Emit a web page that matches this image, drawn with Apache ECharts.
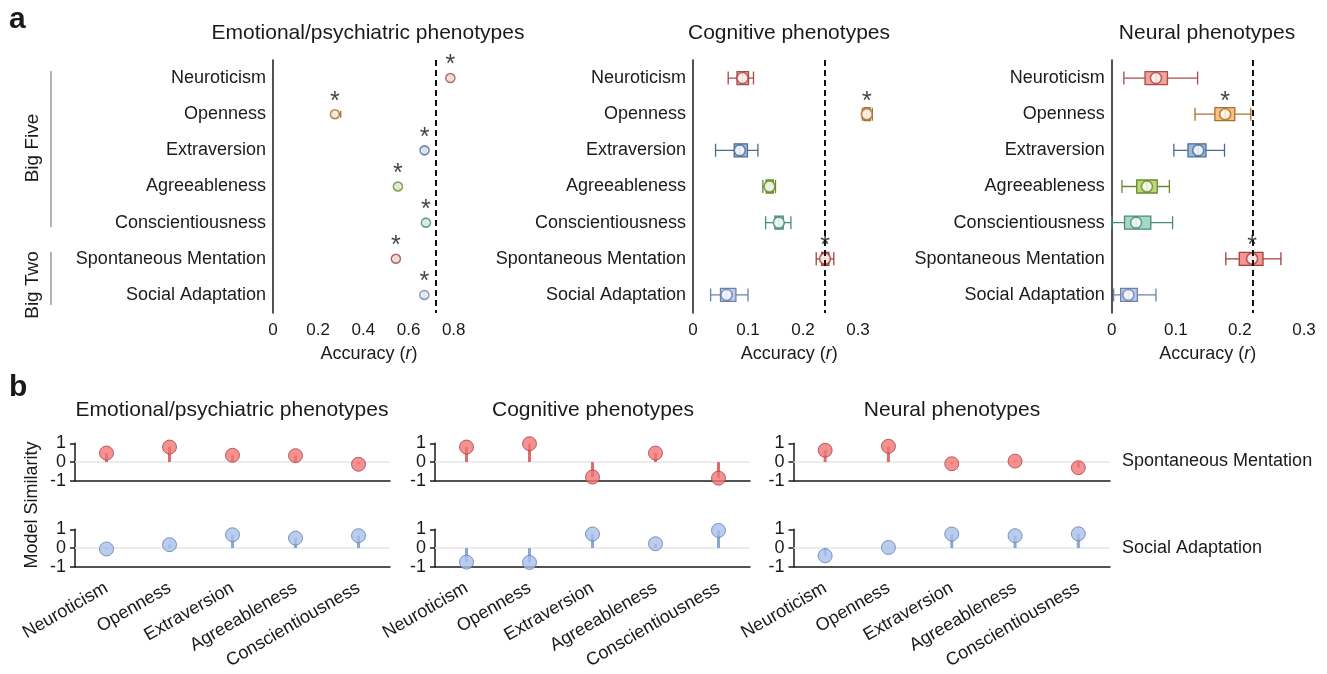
<!DOCTYPE html>
<html style="height: 100%">
<head>
    <meta charset="utf-8">
</head>
<body style="height: 100%; margin: 0; background: #fff">
<div id="container" style="width: 1327px; height: 674px"></div>

<script type="text/javascript" src="https://cdn.jsdelivr.net/npm/echarts@6/dist/echarts.min.js"></script>
<script type="text/javascript">
    // ---- data ----
    var traitsA = ['Neuroticism', 'Openness', 'Extraversion', 'Agreeableness', 'Conscientiousness',
        'Spontaneous Mentation', 'Social Adaptation'];
    var traitsB = ['Neuroticism', 'Openness', 'Extraversion', 'Agreeableness', 'Conscientiousness'];

    // [min, q1, median, q3, max]
    var emoBox = [
        [0.775, 0.780, 0.785, 0.790, 0.795],
        [0.262, 0.266, 0.274, 0.286, 0.300],
        [0.662, 0.667, 0.671, 0.675, 0.680],
        [0.545, 0.549, 0.553, 0.557, 0.562],
        [0.668, 0.673, 0.677, 0.681, 0.686],
        [0.535, 0.540, 0.544, 0.548, 0.553],
        [0.663, 0.667, 0.670, 0.673, 0.677]
    ];
    var cogBox = [
        [0.064, 0.080, 0.090, 0.101, 0.110],
        [0.308, 0.311, 0.316, 0.322, 0.326],
        [0.041, 0.075, 0.085, 0.099, 0.118],
        [0.127, 0.133, 0.139, 0.146, 0.150],
        [0.132, 0.149, 0.156, 0.164, 0.178],
        [0.224, 0.234, 0.240, 0.247, 0.256],
        [0.032, 0.050, 0.061, 0.078, 0.100]
    ];
    var neuBox = [
        [0.019, 0.052, 0.069, 0.087, 0.134],
        [0.130, 0.161, 0.177, 0.192, 0.217],
        [0.097, 0.119, 0.135, 0.147, 0.176],
        [0.016, 0.039, 0.055, 0.071, 0.090],
        [0.000, 0.020, 0.038, 0.061, 0.095],
        [0.178, 0.199, 0.219, 0.236, 0.264],
        [0.003, 0.014, 0.026, 0.040, 0.069]
    ];
    var emoSig = [1, 1, 1, 1, 1, 1, 1];
    var cogSig = [0, 1, 0, 0, 0, 1, 0];
    var neuSig = [0, 1, 0, 0, 0, 1, 0];
    var nullLine = [0.72, 0.24, 0.22];
    var axisMax = [0.85, 0.35, 0.3];
    var ticksEmo = [0, 0.2, 0.4, 0.6, 0.8];
    var ticksCog = [0, 0.1, 0.2, 0.3];
    var ticksNeu = [0, 0.1, 0.2, 0.3];

    var spontEmo = [0.48, 0.80, 0.36, 0.34, -0.12];
    var socialEmo = [-0.05, 0.18, 0.71, 0.53, 0.66];
    var spontCog = [0.80, 0.98, -0.80, 0.48, -0.86];
    var socialCog = [-0.75, -0.77, 0.75, 0.23, 0.94];
    var spontNeu = [0.63, 0.84, -0.09, 0.05, -0.30];
    var socialNeu = [-0.41, 0.03, 0.75, 0.66, 0.76];

    // ---- styling ----
    var boxFill = ['#f4a29c', '#f8c27e', '#9dbadb', '#bcd97a', '#a3d9c9', '#f2968f', '#bccbea'];
    var boxEdge = ['#a94c47', '#a8702e', '#4b6b93', '#6a8a2e', '#4a8a78', '#a2403d', '#6c82aa'];
    var FONT = '"Liberation Sans", Arial, sans-serif';
    var TXT = '#1a1a1a';

    var dom = document.getElementById('container');
    var myChart = echarts.init(dom, null, {renderer: 'canvas'});

    var grids = [], xAxes = [], yAxes = [], series = [];

    // ---- panel a ----
    var boxes = [emoBox, cogBox, neuBox];
    var sigs = [emoSig, cogSig, neuSig];
    var ticks = [ticksEmo, ticksCog, ticksNeu];
    var lefts = [273, 693, 1111.7];
    var widths = [192, 192.5, 192.3];
    var markSize = [9, 11, 11];
    var bw = [7, 13, 13];

    for (var k = 0; k < 3; k++) {
        grids.push({left: lefts[k], top: 60, width: widths[k], height: 253, outerBoundsMode: 'none'});
        xAxes.push({
            gridIndex: k, type: 'value', min: 0, max: axisMax[k],
            axisLine: {lineStyle: {color: TXT, width: 1.5}},
            axisTick: {length: 5, lineStyle: {color: TXT, width: 1.5}, customValues: ticks[k]},
            axisLabel: {color: TXT, fontSize: 17, fontFamily: FONT, margin: 9, customValues: ticks[k]},
            splitLine: {show: false},
            name: 'Accuracy ({i|r})', nameLocation: 'middle', nameGap: 32,
            nameTextStyle: {color: TXT, fontSize: 18, fontFamily: FONT,
                rich: {i: {fontStyle: 'italic', fontSize: 18, fontFamily: FONT, color: TXT}}}
        });
        yAxes.push({
            gridIndex: k, type: 'category', data: traitsA, inverse: true,
            axisLine: {lineStyle: {color: TXT, width: 1.5}},
            axisTick: {alignWithLabel: true, length: 5, lineStyle: {color: TXT, width: 1.5}},
            axisLabel: {color: TXT, fontSize: 18, fontFamily: FONT, margin: 7}
        });
        var bd = boxes[k];
        series.push({
            type: 'boxplot', xAxisIndex: k, yAxisIndex: k, boxWidth: [bw[k], bw[k]],
            data: bd.map(function (v, i) {
                return {value: v, itemStyle: {color: boxFill[i], borderColor: boxEdge[i], borderWidth: 1.3}};
            }),
            markLine: {
                silent: true, symbol: ['none', 'none'], label: {show: false},
                lineStyle: {type: [6, 4], color: '#111', width: 2},
                data: [{xAxis: nullLine[k]}]
            }
        });
        series.push({
            type: 'scatter', xAxisIndex: k, yAxisIndex: k, symbolSize: markSize[k], z: 4,
            data: bd.map(function (v, i) {
                return {value: [v[2], i], itemStyle: {color: '#fff', borderColor: boxEdge[i], borderWidth: 1.6}};
            })
        });
        var sg = sigs[k];
        series.push({
            type: 'scatter', xAxisIndex: k, yAxisIndex: k, symbolSize: 2, z: 5, silent: true,
            itemStyle: {color: 'rgba(0,0,0,0)'},
            label: {show: true, position: 'top', distance: -1, formatter: '*', color: '#111',
                fontSize: 25, fontFamily: FONT},
            data: bd.map(function (v, i) { return [v[2], i]; }).filter(function (d, i) { return sg[i]; })
        });
    }

    // ---- panel b ----
    var spont = [spontEmo, spontCog, spontNeu];
    var social = [socialEmo, socialCog, socialNeu];
    var bLefts = [75, 435, 793.5];
    var bWidths = [315, 315, 316.5];
    var rowTop = [443.3, 529.3];
    var stemColor = ['#e26a6a', '#88a6d6'];
    var dotFill = ['#f27575', '#a9c1ea'];
    var dotEdge = ['#a84444', '#5f7fb0'];

    for (var c = 0; c < 3; c++) {
        for (var r = 0; r < 2; r++) {
            var g = grids.length;
            grids.push({left: bLefts[c], top: rowTop[r], width: bWidths[c], height: 37.5, outerBoundsMode: 'none'});
            xAxes.push({
                gridIndex: g, type: 'category', data: traitsB,
                axisLine: {onZero: false, lineStyle: {color: TXT, width: 1.5}},
                axisTick: {alignWithLabel: true, length: 5, lineStyle: {color: TXT, width: 1.5}},
                axisLabel: {show: r === 1, rotate: 30, color: TXT, fontSize: 18, fontFamily: FONT, margin: 20}
            });
            yAxes.push({
                gridIndex: g, type: 'value', min: -1, max: 1, interval: 1,
                axisLine: {show: true, lineStyle: {color: TXT, width: 1.5}},
                axisTick: {show: true, length: 5, lineStyle: {color: TXT, width: 1.5}},
                axisLabel: {color: TXT, fontSize: 18, fontFamily: FONT, margin: 9},
                splitLine: {show: false}
            });
            var vals = r === 0 ? spont[c] : social[c];
            series.push({
                type: 'bar', xAxisIndex: g, yAxisIndex: g, barWidth: 3, z: 2,
                itemStyle: {color: stemColor[r]},
                data: vals,
                markLine: {
                    z: 1, silent: true, symbol: ['none', 'none'], label: {show: false},
                    lineStyle: {type: 'solid', color: '#e6e6e6', width: 1.5},
                    data: [{yAxis: 0}]
                }
            });
            series.push({
                type: 'scatter', xAxisIndex: g, yAxisIndex: g, symbolSize: 14, z: 3,
                itemStyle: {color: dotFill[r], borderColor: dotEdge[r], borderWidth: 1},
                data: vals
            });
        }
    }

    // ---- annotations ----
    function txt(x, y, s, size, opt) {
        opt = opt || {};
        return {
            type: 'text', x: x, y: y, rotation: opt.rot || 0, silent: true,
            style: {text: s, fill: TXT, fontSize: size, fontFamily: FONT, fontWeight: opt.bold ? 'bold' : 'normal',
                align: opt.align || 'center', verticalAlign: 'middle'}
        };
    }
    var graphics = [
        txt(9, 20, 'a', 30, {bold: true, align: 'left'}),
        txt(9, 388, 'b', 30, {bold: true, align: 'left'}),
        txt(368, 33, 'Emotional/psychiatric phenotypes', 21),
        txt(789, 33, 'Cognitive phenotypes', 21),
        txt(1207, 33, 'Neural phenotypes', 21),
        txt(232, 410, 'Emotional/psychiatric phenotypes', 21),
        txt(593, 410, 'Cognitive phenotypes', 21),
        txt(952, 410, 'Neural phenotypes', 21),
        txt(33, 148, 'Big Five', 19, {rot: Math.PI / 2}),
        txt(33, 285, 'Big Two', 19, {rot: Math.PI / 2}),
        txt(32, 505, 'Model Similarity', 18, {rot: Math.PI / 2}),
        txt(1122, 461, 'Spontaneous Mentation', 18, {align: 'left'}),
        txt(1122, 548, 'Social Adaptation', 18, {align: 'left'}),
        {type: 'line', silent: true, shape: {x1: 51, y1: 71, x2: 51, y2: 227},
            style: {stroke: '#9a9a9a', lineWidth: 1.5}},
        {type: 'line', silent: true, shape: {x1: 51, y1: 252, x2: 51, y2: 305},
            style: {stroke: '#9a9a9a', lineWidth: 1.5}}
    ];

    var option = {
        backgroundColor: '#fff',
        animation: false,
        textStyle: {fontFamily: FONT},
        grid: grids,
        xAxis: xAxes,
        yAxis: yAxes,
        series: series,
        graphic: graphics
    };

    if (option && typeof option === 'object') {
        myChart.setOption(option);
    }
</script>
</body>
</html>
